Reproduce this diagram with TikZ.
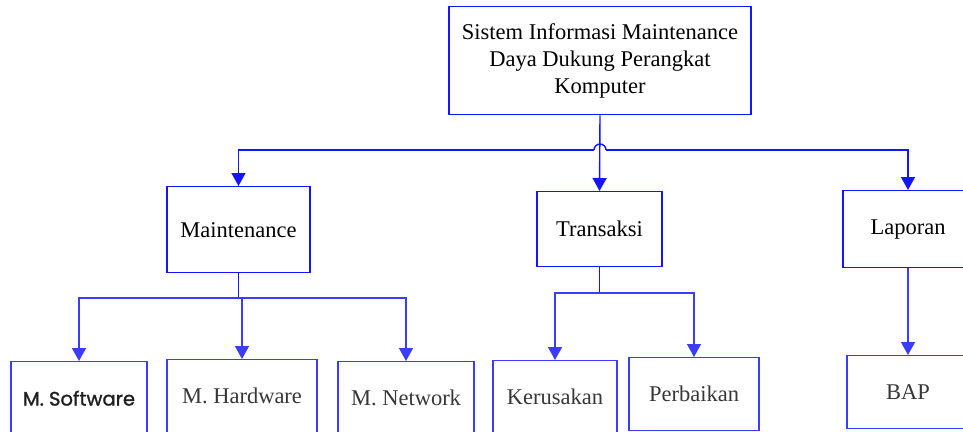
\documentclass[tikz,border=0pt]{standalone}
\usepackage{fontspec}
\setmainfont{Liberation Serif}
\newfontfamily\softfont{Poppins}[FakeBold=1.2]
\usetikzlibrary{arrows.meta}
\definecolor{lineblue}{RGB}{20,20,255}
\definecolor{softblue}{RGB}{60,60,255}
\definecolor{labelgray}{RGB}{55,55,55}
\tikzset{
  box/.style={draw=lineblue, line width=1.4pt, inner sep=0pt, anchor=north,
    align=center, font=\fontsize{22.5}{27}\selectfont},
  lowbox/.style={box, draw=softblue, minimum height=73pt, text=labelgray},
  link/.style={draw=lineblue, line width=1.4pt},
  lowlink/.style={draw=softblue, line width=1.4pt},
  arr/.style={-{Triangle[width=14pt,length=13pt]}},
}
\begin{document}
\begin{tikzpicture}[x=1pt,y=-1pt]
\useasboundingbox (0,0) rectangle (963,431);
\clip (0,0) rectangle (963,431);

% top level
\node[box, minimum width=302pt, minimum height=108pt] (top) at (600,6)
  {Sistem Informasi Maintenance\\Daya Dukung Perangkat\\Komputer};

% second level
\node[box, minimum width=143pt, minimum height=86pt] (maint) at (238.5,186) {Maintenance};
\node[box, minimum width=125pt, minimum height=75pt] (trans) at (599.5,191) {Transaksi};
\node[box, minimum width=130pt, minimum height=77pt] (lap) at (908,190) {Laporan};

% third level
\node[lowbox, minimum width=136pt, text=black!88] (msw) at (79,361)
  {\softfont\fontsize{19.5}{24}\selectfont M. Software};
\node[lowbox, minimum width=150pt] (mhw) at (242,359) {M. Hardware};
\node[lowbox, minimum width=136pt] (mnw) at (406,361) {M. Network};
\node[lowbox, minimum width=124pt] (ker) at (555,360) {Kerusakan};
\node[lowbox, minimum width=130pt] (perb) at (694,357) {Perbaikan};
\node[lowbox, minimum width=122pt] (bap) at (908,355) {BAP};

% top level connectors, the bar hops over the central line
\coordinate (hopL) at (594,150);
\coordinate (hopR) at (606,150);
\draw[link, arr] (top.south) -- (trans.north);
\draw[link, arr] (hopL) -- (hopL -| maint.north) -- (maint.north);
\draw[link] (hopL) arc (180:360:6);
\draw[link, arr] (hopR) -- (hopR -| lap.north) -- (lap.north);

% maintenance branch
\coordinate (mbar) at (238.5,298);
\draw[link] (maint.south) -- (mbar);
\draw[lowlink, arr] (mbar) -- (mbar -| msw.north) -- (msw.north);
\draw[lowlink, arr] (mbar) -- (mbar -| mnw.north) -- (mnw.north);
\draw[lowlink, arr] (mbar -| mhw.north) -- (mhw.north);

% transaksi branch
\coordinate (tbar) at (599.5,293);
\draw[link] (trans.south) -- (tbar);
\draw[lowlink, arr] (tbar) -- (tbar -| ker.north) -- (ker.north);
\draw[lowlink, arr] (tbar) -- (tbar -| perb.north) -- (perb.north);

% laporan branch
\draw[lowlink, arr] (lap.south) -- (bap.north);
\end{tikzpicture}
\end{document}
